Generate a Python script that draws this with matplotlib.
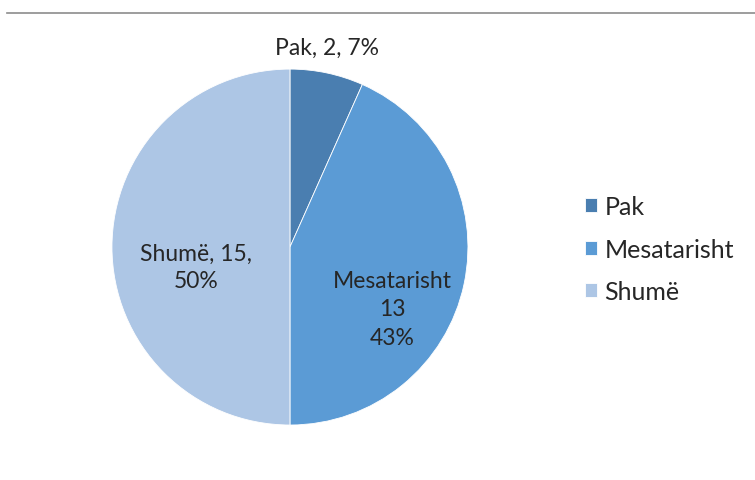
import matplotlib.pyplot as plt
from matplotlib.lines import Line2D

labels = ["Pak", "Mesatarisht", "Shumë"]
values = [2, 13, 15]
colors = ["#4a7eb0", "#5b9bd5", "#adc6e5"]

plt.rcParams['font.family'] = ['Lato', 'DejaVu Sans']

fig = plt.figure(figsize=(7.55, 4.81), dpi=100)
ax = fig.add_axes([0.1483, 0.1143, 0.4715, 0.740])

wedges, _ = ax.pie(values, colors=colors, startangle=90, counterclock=False,
                   radius=1, wedgeprops=dict(edgecolor="white", linewidth=0.6))
ax.set_xlim(-1, 1)
ax.set_ylim(-1, 1)
ax.set_aspect('auto')
ax.axis('off')

total = sum(values)
pct = [round(v / total * 100) for v in values]

txt = dict(fontsize=16.5, color='#262626', ha='center', va='center')
ax.text(0.208, 1.124, f"{labels[0]}, {values[0]}, {pct[0]}%", clip_on=False, **txt)
ax.text(0.573, -0.348, f"{labels[1]}\n{values[1]}\n{pct[1]}%", linespacing=1.45, **txt)
ax.text(-0.528, -0.112, f"{labels[2]}, {values[2]},\n{pct[2]}%", linespacing=1.4, **txt)

# top rule
fig.add_artist(Line2D([0.009, 1.0], [1 - 14 / 481, 1 - 14 / 481],
                      transform=fig.transFigure, color='#8c8c8c', linewidth=1.2))

leg = fig.legend(wedges, labels, loc='center left', bbox_to_anchor=(0.775, 0.48),
                 frameon=False, fontsize=18, handlelength=0.48, handleheight=0.48,
                 handletextpad=0.3, labelspacing=0.78, borderpad=0, borderaxespad=0)
for t in leg.get_texts():
    t.set_color('#262626')

fig.savefig("out.png", dpi=100)
